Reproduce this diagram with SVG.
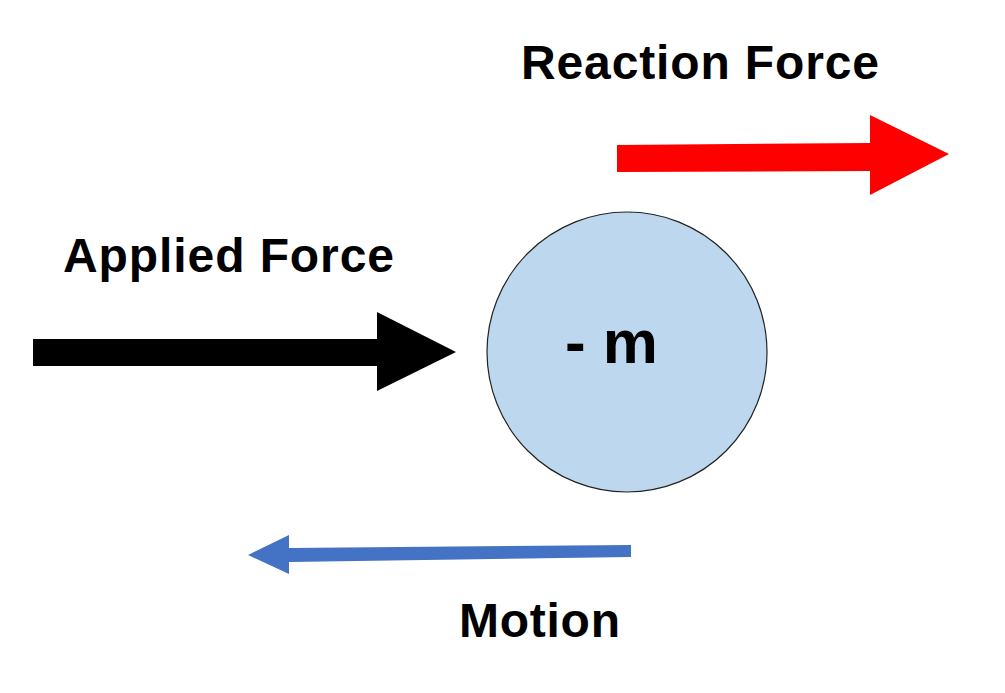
<svg xmlns="http://www.w3.org/2000/svg" width="1005" height="693" viewBox="0 0 1005 693">
<style>
.lbl{font-family:"Liberation Sans",Arial,sans-serif;font-weight:bold;fill:#000}
</style>
<rect width="1005" height="693" fill="#fff"/>
<g id="mass">
<circle cx="627" cy="352" r="140" fill="#bdd7ee" stroke="#222" stroke-width="1.2"/>
<text class="lbl" x="565" y="363" font-size="62">- m</text>
</g>
<g id="connectors">
<polygon id="reaction-arrow" fill="#ff0000" points="617,145 870,143 870,115 949,154 870,195 870,171 617,172"/>
<polygon id="applied-arrow" fill="#000" points="33,339 377,339 377,312 456,352 377,391 377,366 33,366"/>
<polygon id="motion-arrow" fill="#4472c4" points="631,545 289,548 289,535 248,555 289,574 289,562 631,557"/>
</g>
<g id="label-reaction"><text class="lbl" x="521" y="79" font-size="48" textLength="358">Reaction Force</text></g>
<g id="label-applied"><text class="lbl" x="63" y="272" font-size="48" textLength="331">Applied Force</text></g>
<g id="label-motion"><text class="lbl" x="459" y="637" font-size="48" textLength="161">Motion</text></g>
</svg>
